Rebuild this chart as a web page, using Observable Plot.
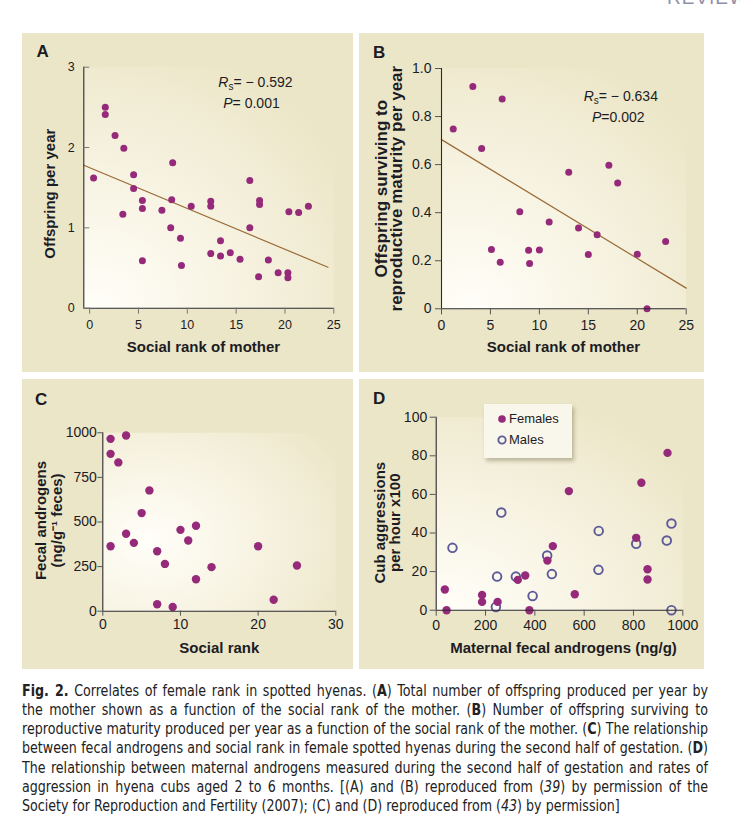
<!DOCTYPE html>
<html>
<head>
<meta charset="utf-8">
<script src="https://cdn.jsdelivr.net/npm/d3@7"></script>
<script src="https://cdn.jsdelivr.net/npm/@observablehq/plot@0.6"></script>
<style>
  html, body { margin: 0; padding: 0; background: #fff; }
  body { width: 740px; height: 834px; position: relative; overflow: hidden; font-family: "Liberation Sans", Arial, sans-serif; color: #1c1c24; }
  .panel { position: absolute; background: #ece6c8; }
  .panel svg { position: absolute; left: 0; top: 0; overflow: visible; }
  .plabel { position: absolute; font-weight: bold; font-size: 17px; line-height: 17px; color: #1c1c24; }
  .annot { position: absolute; width: 130px; text-align: center; font-size: 14px; line-height: 16px; white-space: nowrap; }
  .annot sub { font-size: 10px; vertical-align: -3px; line-height: 0; }
  #review { position: absolute; left: 667px; top: -13px; font-size: 19px; color: #8d90a8; letter-spacing: 1px; white-space: nowrap; }
  #caption { position: absolute; left: 22px; top: 681.5px; width: 686px; font-family: "DejaVu Sans Condensed", "DejaVu Sans", sans-serif; font-stretch: condensed; font-size: 15.5px; line-height: 19.3px; color: #222; }
  #caption .ln { white-space: nowrap; text-align: justify; text-align-last: justify; transform-origin: 0 0; }
  #caption .ln.last { text-align-last: left; }
  .legend { position: absolute; background: #f9f6ec; box-shadow: 2px 3px 4px rgba(60,50,20,0.3); font-size: 13px; }
  .legend .item { position: absolute; left: 0; white-space: nowrap; line-height: 16px; }
  .legend svg { position: static; vertical-align: -1px; margin-right: 2px; }
</style>
</head>
<body>
<div id="review">REVIEW</div>
<div id="pA" class="panel" style="left:22px; top:33px; width:331px; height:339px;"></div>
<div id="pB" class="panel" style="left:359px; top:33px; width:345px; height:339px;"></div>
<div id="pC" class="panel" style="left:22px; top:379px; width:331px; height:290px;"></div>
<div id="pD" class="panel" style="left:359px; top:379px; width:345px; height:290px;"></div>
<div id="caption">
  <div class="ln"><b>Fig. 2.</b> Correlates of female rank in spotted hyenas. (<b>A</b>) Total number of offspring produced per year by</div>
  <div class="ln">the mother shown as a function of the social rank of the mother. (<b>B</b>) Number of offspring surviving to</div>
  <div class="ln">reproductive maturity produced per year as a function of the social rank of the mother. (<b>C</b>) The relationship</div>
  <div class="ln">between fecal androgens and social rank in female spotted hyenas during the second half of gestation. (<b>D</b>)</div>
  <div class="ln">The relationship between maternal androgens measured during the second half of gestation and rates of</div>
  <div class="ln">aggression in hyena cubs aged 2 to 6 months. [(A) and (B) reproduced from (<i>39</i>) by permission of the</div>
  <div class="ln last">Society for Reproduction and Fertility (2007); (C) and (D) reproduced from (<i>43</i>) by permission]</div>
</div>
<script>
// ---------- Data ----------
// Panel A: offspring per year vs social rank of mother
const rankA = [0.4, 1.6, 1.6, 2.6, 3.5, 3.4, 4.5, 4.5, 5.4, 5.4, 5.4, 7.4, 8.5, 8.4, 8.3, 9.3, 9.4, 10.4, 12.4, 12.4, 12.4, 13.4, 13.4, 14.4, 15.4, 16.4, 16.4, 17.4, 17.4, 17.3, 18.3, 19.3, 20.4, 20.3, 20.3, 21.4, 22.4];
const offspringA = [1.62, 2.50, 2.41, 2.15, 1.99, 1.17, 1.66, 1.49, 1.34, 1.24, 0.59, 1.22, 1.81, 1.35, 1.00, 0.87, 0.53, 1.27, 1.33, 1.27, 0.68, 0.84, 0.65, 0.69, 0.61, 1.59, 1.00, 1.34, 1.29, 0.39, 0.60, 0.44, 1.20, 0.44, 0.38, 1.19, 1.27];
const fitAx = [-0.6, 24.4];
const fitAy = [1.78, 0.51];
const xTicksA = [0, 5, 10, 15, 20, 25];
const yTicksA = [0, 1, 2, 3];
const xDomA = [-0.6, 25];
const yDomA = [0, 3];
const statsA = ["−0.592", "0.001"];

// Panel B: offspring surviving to reproductive maturity per year
const rankB = [1.2, 3.2, 4.1, 5.1, 6.0, 6.2, 8.0, 8.9, 9.0, 10.0, 11.0, 13.0, 14.0, 15.0, 15.9, 17.1, 18.0, 20.0, 21.0, 22.9];
const survB = [0.748, 0.925, 0.667, 0.247, 0.194, 0.873, 0.404, 0.244, 0.188, 0.245, 0.361, 0.568, 0.336, 0.226, 0.308, 0.597, 0.523, 0.227, 0.0, 0.280];
const fitBx = [0, 25];
const fitBy = [0.704, 0.086];
const xTicksB = [0, 5, 10, 15, 20, 25];
const yTicksB = [0, 0.2, 0.4, 0.6, 0.8, 1.0];
const xDomB = [0, 25];
const yDomB = [0, 1.0];
const statsB = ["−0.634", "0.002"];

// Panel C: fecal androgens vs social rank
const rankC = [1, 3, 1, 2, 6, 5, 3, 4, 1, 7, 8, 10, 11, 12, 12, 14, 7, 9, 20, 22, 25];
const androC = [966, 985, 882, 834, 677, 550, 434, 383, 364, 336, 265, 456, 396, 479, 179, 247, 39, 24, 364, 64, 256];
const xTicksC = [0, 10, 20, 30];
const yTicksC = [0, 250, 500, 750, 1000];
const xDomC = [0, 30];
const yDomC = [0, 1000];

// Panel D: cub aggressions vs maternal fecal androgens
const femAndro = [35, 42, 186, 186, 249, 331, 361, 378, 451, 473, 538, 562, 811, 832, 857, 857, 938];
const femAggr = [10.7, 0, 7.9, 4.3, 4.3, 15.7, 18.0, 0, 25.7, 33.2, 61.7, 8.3, 37.5, 66.0, 21.2, 15.9, 81.5];
const maleAndro = [66, 247, 242, 264, 323, 391, 450, 469, 659, 658, 811, 935, 954, 954];
const maleAggr = [32.3, 17.4, 1.7, 50.6, 17.4, 7.4, 28.3, 18.7, 41.1, 20.9, 34.4, 36.1, 44.9, 0];
const xTicksD = [0, 200, 400, 600, 800, 1000];
const yTicksD = [0, 20, 40, 60, 80, 100];
const xDomD = [0, 1000];
const yDomD = [0, 100];
const sexes = ["Females", "Males"];

// ---------- Styling ----------
const dotColor = "#962a7a";
const maleColor = "#5d5a98";
const fitColor = "#9a6a36";
const axisColor = "#2a2a30";
const tickColor = "#555";
const textColor = "#1c1c24";
const fontFamily = "'Liberation Sans', Arial, sans-serif";
const plain = d => String(d);

function addGradient(svg, id, cx, cy, r) {
  const ns = "http://www.w3.org/2000/svg";
  const defs = document.createElementNS(ns, "defs");
  defs.innerHTML = `<radialGradient id="${id}" cx="${cx}" cy="${cy}" r="${r}">
    <stop offset="0" stop-color="#fffef8"/>
    <stop offset="0.45" stop-color="#f8f4e4"/>
    <stop offset="1" stop-color="#ece6c8"/>
  </radialGradient>`;
  svg.insertBefore(defs, svg.firstChild);
}

const baseStyle = {background: "transparent", fontFamily, color: textColor, overflow: "visible"};

function axisLines(xDom, yDom) {
  return [
    Plot.ruleX([xDom[0]], {y1: yDom[0], y2: yDom[1], stroke: axisColor, strokeWidth: 1.1}),
    Plot.ruleY([yDom[0]], {x1: xDom[0], x2: xDom[1], stroke: axisColor, strokeWidth: 1.1})
  ];
}
function yLabel(text, dx, dy, size, lh) {
  return Plot.text([text], {text: d => d, frameAnchor: "left", textAnchor: "middle", lineAnchor: "middle", rotate: -90, dx, dy, lineHeight: lh, fontSize: size, fontWeight: "bold", fill: textColor});
}
function xLabel(text, dx, dy) {
  return Plot.text([text], {text: d => d, frameAnchor: "bottom", textAnchor: "middle", lineAnchor: "middle", dx, dy, fontSize: 15, fontWeight: "bold", fill: textColor});
}

// ---------- Panel A ----------
const dataA = rankA.map((r, i) => ({rank: r, off: offspringA[i]}));
const fitA = fitAx.map((x, i) => ({x, y: fitAy[i]}));
const plotA = Plot.plot({
  width: 331, height: 339,
  marginLeft: 61.3, marginRight: 19.7, marginTop: 33.7, marginBottom: 64.3,
  x: {domain: xDomA}, y: {domain: yDomA},
  style: baseStyle,
  marks: [
    Plot.frame({fill: "url(#gradA)", stroke: "none"}),
    Plot.line(fitA, {x: "x", y: "y", stroke: fitColor, strokeWidth: 1.2}),
    Plot.dot(dataA, {x: "rank", y: "off", r: 3.5, fill: dotColor}),
    ...axisLines(xDomA, yDomA),
    Plot.axisX(xTicksA, {tickSize: 6, tickPadding: 6, fontSize: 12.5, label: null, stroke: "#777", fill: textColor, tickFormat: plain}),
    Plot.axisY(yTicksA, {tickSize: 6, dx: 6, tickPadding: 9, fontSize: 12.5, label: null, stroke: "#777", fill: textColor, tickFormat: plain}),
    yLabel("Offspring per year", -33.3, 6, 15, 1),
    xLabel("Social rank of mother", -5.3, 39.3)
  ]
});
addGradient(plotA, "gradA", 0.05, 1.0, 1.15);
document.getElementById("pA").append(plotA);

// ---------- Panel B ----------
const dataB = rankB.map((r, i) => ({rank: r, surv: survB[i]}));
const fitB = fitBx.map((x, i) => ({x, y: fitBy[i]}));
const plotB = Plot.plot({
  width: 345, height: 339,
  marginLeft: 82, marginRight: 18.3, marginTop: 35, marginBottom: 63.7,
  x: {domain: xDomB}, y: {domain: yDomB},
  style: baseStyle,
  marks: [
    Plot.frame({fill: "url(#gradB)", stroke: "none"}),
    Plot.line(fitB, {x: "x", y: "y", stroke: fitColor, strokeWidth: 1.2}),
    Plot.dot(dataB, {x: "rank", y: "surv", r: 3.5, fill: dotColor}),
    ...axisLines(xDomB, yDomB),
    Plot.axisX(xTicksB, {tickSize: 6, tickPadding: 5, fontSize: 14, label: null, stroke: tickColor, fill: textColor, tickFormat: plain}),
    Plot.axisY(yTicksB, {tickSize: 6, tickPadding: 4, fontSize: 14, label: null, stroke: tickColor, fill: textColor, tickFormat: d => d === 0 ? "0" : d.toFixed(1)}),
    yLabel("Offspring surviving to\nreproductive maturity per year", -51.8, 0, 17, 0.9),
    xLabel("Social rank of mother", -0.4, 38.4)
  ]
});
addGradient(plotB, "gradB", 0.12, 1.0, 1.15);
document.getElementById("pB").append(plotB);

// ---------- Panel C ----------
const dataC = rankC.map((r, i) => ({rank: r, andro: androC[i]}));
const plotC = Plot.plot({
  width: 331, height: 290,
  marginLeft: 80.3, marginRight: 17.7, marginTop: 53.3, marginBottom: 58.3,
  x: {domain: xDomC}, y: {domain: yDomC},
  style: baseStyle,
  marks: [
    Plot.frame({fill: "url(#gradC)", stroke: "none"}),
    Plot.dot(dataC, {x: "rank", y: "andro", r: 4.2, fill: dotColor}),
    ...axisLines(xDomC, yDomC),
    Plot.axisX(xTicksC, {tickSize: 5, tickPadding: 3, fontSize: 14, label: null, stroke: tickColor, fill: textColor, tickFormat: plain}),
    Plot.axisY(yTicksC, {tickSize: 5, tickPadding: 1, fontSize: 14, label: null, stroke: tickColor, fill: textColor, tickFormat: plain}),
    yLabel("Fecal androgens\n(ng/g⁻¹ feces)", -54, -1.5, 15, 1.1),
    xLabel("Social rank", 0, 37.3)
  ]
});
addGradient(plotC, "gradC", 0.2, 0.6, 0.95);
document.getElementById("pC").append(plotC);

// ---------- Panel D ----------
const dataD = [
  ...femAndro.map((a, i) => ({andro: a, aggr: femAggr[i], sex: sexes[0]})),
  ...maleAndro.map((a, i) => ({andro: a, aggr: maleAggr[i], sex: sexes[1]}))
];
const plotD = Plot.plot({
  width: 345, height: 290,
  marginLeft: 76.7, marginRight: 21.7, marginTop: 37.7, marginBottom: 59.3,
  x: {domain: xDomD}, y: {domain: yDomD},
  style: baseStyle,
  marks: [
    Plot.frame({fill: "url(#gradD)", stroke: "none"}),
    Plot.dot(dataD.filter(d => d.sex === sexes[1]), {x: "andro", y: "aggr", r: 4.3, stroke: maleColor, strokeWidth: 1.9, fill: "none"}),
    Plot.dot(dataD.filter(d => d.sex === sexes[0]), {x: "andro", y: "aggr", r: 4.2, fill: dotColor}),
    ...axisLines(xDomD, yDomD),
    Plot.axisX(xTicksD, {tickSize: 6, tickPadding: 4, fontSize: 14, label: null, stroke: tickColor, fill: textColor, tickFormat: plain}),
    Plot.axisY(yTicksD, {tickSize: 6, tickPadding: 3, fontSize: 14, label: null, stroke: tickColor, fill: textColor, tickFormat: plain}),
    yLabel("Cub aggressions\nper hour x100", -49, 9, 15, 1.0),
    xLabel("Maternal fecal androgens (ng/g)", 4, 38.3)
  ]
});
addGradient(plotD, "gradD", 0.05, 1.0, 1.2);
document.getElementById("pD").append(plotD);

// ---------- Panel letters, statistics, legend ----------
function addHTML(id, html) {
  document.getElementById(id).insertAdjacentHTML("beforeend", html);
}
addHTML("pA", `<div class="plabel" style="left:14.5px; top:10px;">A</div>`);
addHTML("pB", `<div class="plabel" style="left:14px; top:11px;">B</div>`);
addHTML("pC", `<div class="plabel" style="left:13px; top:12px;">C</div>`);
addHTML("pD", `<div class="plabel" style="left:14px; top:11px;">D</div>`);

addHTML("pA", `<div class="annot" style="left:${233.5 - 65}px; top:${49 - 8}px;"><i>R</i><sub>s</sub>= ${statsA[0].replace("−", "− ")}</div>
               <div class="annot" style="left:${229.5 - 65}px; top:${70 - 8}px;"><i>P</i>= ${statsA[1]}</div>`);
addHTML("pB", `<div class="annot" style="left:${261.8 - 65}px; top:${62.7 - 8}px;"><i>R</i><sub>s</sub>= ${statsB[0].replace("−", "− ")}</div>
               <div class="annot" style="left:${259.3 - 65}px; top:${83.7 - 8}px;"><i>P</i>=${statsB[1]}</div>`);

addHTML("pD", `<div class="legend" style="left:125px; top:25.3px; width:88px; height:53.4px;">
  <div class="item" style="top:7px; left:13px;"><svg width="10" height="10"><circle cx="5" cy="5" r="3.8" fill="${dotColor}"/></svg>${sexes[0]}</div>
  <div class="item" style="top:28px; left:13px;"><svg width="10" height="10"><circle cx="5" cy="5" r="3.7" fill="none" stroke="${maleColor}" stroke-width="1.8"/></svg>${sexes[1]}</div>
</div>`);

// ---------- Caption: fit each justified line to the column width ----------
(function fitCaption() {
  const colW = 686;
  const lines = Array.from(document.querySelectorAll("#caption .ln"));
  let scale = 1;
  lines.forEach(el => {
    el.style.display = "inline-block";
    const w = el.getBoundingClientRect().width;
    el.style.display = "block";
    if (!el.classList.contains("last")) scale = Math.min(scale, colW / (w + 4));
  });
  lines.forEach(el => {
    el.style.width = (colW / scale) + "px";
    el.style.transform = `scaleX(${scale})`;
  });
})();
</script>
</body>
</html>
